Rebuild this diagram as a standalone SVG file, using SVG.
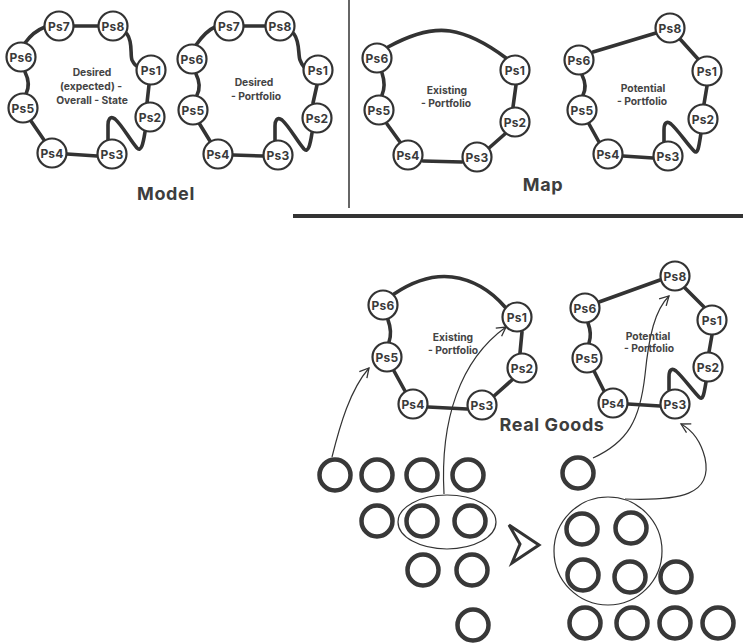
<svg xmlns="http://www.w3.org/2000/svg" width="743" height="644" viewBox="0 0 743 644">
<defs>
<style>
.n circle{fill:#fff;stroke:#333;stroke-width:2.2}
.n text{font-family:Inter,"Open Sans","Liberation Sans",sans-serif;font-weight:700;font-size:12px;letter-spacing:0.2px;fill:#3a3a3a;text-anchor:middle}
.lbl{font-family:Inter,"Open Sans","Liberation Sans",sans-serif;font-weight:700;font-size:10.3px;fill:#444;text-anchor:middle}
.title{font-family:Inter,"Open Sans","Liberation Sans",sans-serif;font-weight:700;font-size:18px;letter-spacing:0.6px;fill:#3d3d3d;text-anchor:middle}
.c{fill:none;stroke:#333;stroke-width:3.6;stroke-linecap:round;stroke-linejoin:round}
.a{fill:none;stroke:#333;stroke-width:1.2}
.g circle{fill:none;stroke:#383838;stroke-width:4.5}
.ring{fill:none;stroke:#333;stroke-width:1.2}
</style>
<marker id="arr" markerWidth="12" markerHeight="12" refX="10" refY="6" orient="auto" markerUnits="userSpaceOnUse">
<path d="M1,1 L10,6 L1,11" fill="none" stroke="#333" stroke-width="1.3"/>
</marker>
</defs>
<rect width="743" height="644" fill="#fff"/>

<!-- dividers -->
<line x1="349" y1="0" x2="349" y2="208" stroke="#333" stroke-width="1.5"/>
<line x1="293" y1="216" x2="743" y2="216" stroke="#333" stroke-width="4"/>

<g id="connectors">
<!-- model 1 -->
<path class="c" d="M74,26 L98,26"/>
<path class="c" d="M127,34 C133,42 130,55 132,60 C134,64 136,66 137,66"/>
<path class="c" d="M149,85 L147,103"/>
<path class="c" d="M145,132 C143,145 141,152 137,148 C130,140 122,125 115,119 C110,115 108,120 108,125 L108,140"/>
<path class="c" d="M97,156 L67,154"/>
<path class="c" d="M44,140 L31,121"/>
<path class="c" d="M25,72 C29,80 29,88 26,94"/>
<path class="c" d="M25,43 C30,36 37,30 45,27"/>
<!-- model 2 -->
<path class="c" d="M244,26 L265,26"/>
<path class="c" d="M294,34 C300,42 298,55 300,60 C302,65 304,67 304,67"/>
<path class="c" d="M317,85 L313,103"/>
<path class="c" d="M312,133 C310,146 308,153 304,149 C297,141 289,126 282,120 C277,116 275,121 275,126 L275,141"/>
<path class="c" d="M263,156 L233,155"/>
<path class="c" d="M210,141 L199,123"/>
<path class="c" d="M196,74 C200,82 200,89 197,95"/>
<path class="c" d="M196,45 C203,35 208,30 215,27"/>
<!-- map existing -->
<path class="c" d="M388,47 C410,35 430,28 450,31 C470,34 490,46 506,58"/>
<path class="c" d="M516,85 L513,107"/>
<path class="c" d="M506,133 L489,148"/>
<path class="c" d="M462,162 L423,161"/>
<path class="c" d="M400,142 L387,124"/>
<path class="c" d="M382,73 C385,82 385,88 382,95"/>
<!-- map potential -->
<path class="c" d="M593,52 L656,33"/>
<path class="c" d="M680,39 L698,59"/>
<path class="c" d="M707,86 L704,104"/>
<path class="c" d="M701,133 C699,146 698,155 694,151 C687,144 678,130 671,124 C666,120 664,124 664,130 L664,142"/>
<path class="c" d="M653,158 L623,156"/>
<path class="c" d="M599,142 L589,124"/>
<path class="c" d="M582,75 C586,83 586,89 583,95"/>
<!-- real existing -->
<path class="c" d="M394,294 C415,280 435,275 452,277 C475,280 492,292 505,307"/>
<path class="c" d="M522,332 L520,353"/>
<path class="c" d="M512,380 L494,396"/>
<path class="c" d="M467,409 L428,407"/>
<path class="c" d="M405,391 L394,371"/>
<path class="c" d="M388,320 C391,328 391,336 389,342"/>
<!-- real potential -->
<path class="c" d="M599,302 L660,280"/>
<path class="c" d="M685,288 L704,307"/>
<path class="c" d="M712,335 L709,352"/>
<path class="c" d="M706,382 C704,394 703,401 699,397 C692,390 683,377 676,371 C671,367 669,371 669,377 L669,390"/>
<path class="c" d="M660,406 L628,404"/>
<path class="c" d="M604,391 L594,371"/>
<path class="c" d="M588,323 C591,331 591,337 589,343"/>
<!-- thin arrows -->
<path class="a" d="M332,457 C340,425 350,390 369,368" marker-end="url(#arr)"/>
<path class="a" d="M444,494 C440,420 460,360 506,327" marker-end="url(#arr)"/>
<path class="a" d="M593,458 C628,442 640,420 645,375 C649,335 655,310 669,296" marker-end="url(#arr)"/>
<path class="a" d="M625,499 C680,501 713,495 705,458 C701,442 692,430 681,424" marker-end="url(#arr)"/>
</g>

<!-- model 1 nodes -->
<g id="m1" class="n">
<g id="m1-ps7"><circle cx="59" cy="26" r="14.5"/><text x="59" y="30.5">Ps7</text></g>
<g id="m1-ps8"><circle cx="113" cy="26" r="14.5"/><text x="113" y="30.5">Ps8</text></g>
<g id="m1-ps6"><circle cx="21" cy="57" r="14.5"/><text x="21" y="61.5">Ps6</text></g>
<g id="m1-ps1"><circle cx="151" cy="70" r="14.5"/><text x="151" y="74.5">Ps1</text></g>
<g id="m1-ps5"><circle cx="23" cy="108" r="14.5"/><text x="23" y="112.5">Ps5</text></g>
<g id="m1-ps2"><circle cx="150" cy="117" r="14.5"/><text x="150" y="121.5">Ps2</text></g>
<g id="m1-ps4"><circle cx="52" cy="153" r="14.5"/><text x="52" y="157.5">Ps4</text></g>
<g id="m1-ps3"><circle cx="112" cy="154" r="14.5"/><text x="112" y="158.5">Ps3</text></g>
</g>
<g id="m1-label"><text class="lbl" x="92" y="76">Desired</text><text class="lbl" x="91" y="90">(expected) -</text><text class="lbl" x="92" y="104">Overall - State</text></g>

<!-- model 2 nodes -->
<g id="m2" class="n">
<g id="m2-ps7"><circle cx="229" cy="26" r="14.5"/><text x="229" y="30.5">Ps7</text></g>
<g id="m2-ps8"><circle cx="280" cy="26" r="14.5"/><text x="280" y="30.5">Ps8</text></g>
<g id="m2-ps6"><circle cx="192" cy="59" r="14.5"/><text x="192" y="63.5">Ps6</text></g>
<g id="m2-ps1"><circle cx="318" cy="70" r="14.5"/><text x="318" y="74.5">Ps1</text></g>
<g id="m2-ps5"><circle cx="193" cy="110" r="14.5"/><text x="193" y="114.5">Ps5</text></g>
<g id="m2-ps2"><circle cx="317" cy="118" r="14.5"/><text x="317" y="122.5">Ps2</text></g>
<g id="m2-ps4"><circle cx="218" cy="154" r="14.5"/><text x="218" y="158.5">Ps4</text></g>
<g id="m2-ps3"><circle cx="278" cy="155" r="14.5"/><text x="278" y="159.5">Ps3</text></g>
</g>
<g id="m2-label"><text class="lbl" x="254" y="86">Desired</text><text class="lbl" x="256" y="100">- Portfolio</text></g>

<!-- map existing -->
<g id="me" class="n">
<g id="me-ps6"><circle cx="377" cy="58" r="14.5"/><text x="377" y="62.5">Ps6</text></g>
<g id="me-ps1"><circle cx="515" cy="70" r="14.5"/><text x="515" y="74.5">Ps1</text></g>
<g id="me-ps5"><circle cx="379" cy="110" r="14.5"/><text x="379" y="114.5">Ps5</text></g>
<g id="me-ps2"><circle cx="515" cy="122" r="14.5"/><text x="515" y="126.5">Ps2</text></g>
<g id="me-ps4"><circle cx="408" cy="155" r="14.5"/><text x="408" y="159.5">Ps4</text></g>
<g id="me-ps3"><circle cx="477" cy="157" r="14.5"/><text x="477" y="161.5">Ps3</text></g>
</g>
<g id="me-label"><text class="lbl" x="447" y="94">Existing</text><text class="lbl" x="446" y="107">- Portfolio</text></g>

<!-- map potential -->
<g id="mp" class="n">
<g id="mp-ps8"><circle cx="670" cy="28" r="14.5"/><text x="670" y="32.5">Ps8</text></g>
<g id="mp-ps6"><circle cx="579" cy="60" r="14.5"/><text x="579" y="64.5">Ps6</text></g>
<g id="mp-ps1"><circle cx="707" cy="71" r="14.5"/><text x="707" y="75.5">Ps1</text></g>
<g id="mp-ps5"><circle cx="582" cy="110" r="14.5"/><text x="582" y="114.5">Ps5</text></g>
<g id="mp-ps2"><circle cx="703" cy="119" r="14.5"/><text x="703" y="123.5">Ps2</text></g>
<g id="mp-ps4"><circle cx="608" cy="154" r="14.5"/><text x="608" y="158.5">Ps4</text></g>
<g id="mp-ps3"><circle cx="668" cy="156" r="14.5"/><text x="668" y="160.5">Ps3</text></g>
</g>
<g id="mp-label"><text class="lbl" x="643" y="92">Potential</text><text class="lbl" x="642" y="105">- Portfolio</text></g>

<!-- real existing -->
<g id="re" class="n">
<g id="re-ps6"><circle cx="383" cy="305" r="14.5"/><text x="383" y="309.5">Ps6</text></g>
<g id="re-ps1"><circle cx="517" cy="317" r="14.5"/><text x="517" y="321.5">Ps1</text></g>
<g id="re-ps5"><circle cx="387" cy="357" r="14.5"/><text x="387" y="361.5">Ps5</text></g>
<g id="re-ps2"><circle cx="522" cy="368" r="14.5"/><text x="522" y="372.5">Ps2</text></g>
<g id="re-ps4"><circle cx="413" cy="404" r="14.5"/><text x="413" y="408.5">Ps4</text></g>
<g id="re-ps3"><circle cx="482" cy="405" r="14.5"/><text x="482" y="409.5">Ps3</text></g>
</g>
<g id="re-label"><text class="lbl" x="453" y="341">Existing</text><text class="lbl" x="453" y="354">- Portfolio</text></g>

<!-- real potential -->
<g id="rp" class="n">
<g id="rp-ps8"><circle cx="675" cy="276" r="14.5"/><text x="675" y="280.5">Ps8</text></g>
<g id="rp-ps6"><circle cx="585" cy="308" r="14.5"/><text x="585" y="312.5">Ps6</text></g>
<g id="rp-ps1"><circle cx="712" cy="320" r="14.5"/><text x="712" y="324.5">Ps1</text></g>
<g id="rp-ps5"><circle cx="587" cy="358" r="14.5"/><text x="587" y="362.5">Ps5</text></g>
<g id="rp-ps2"><circle cx="708" cy="367" r="14.5"/><text x="708" y="371.5">Ps2</text></g>
<g id="rp-ps4"><circle cx="613" cy="403" r="14.5"/><text x="613" y="407.5">Ps4</text></g>
<g id="rp-ps3"><circle cx="675" cy="404" r="14.5"/><text x="675" y="408.5">Ps3</text></g>
</g>
<g id="rp-label"><text class="lbl" x="648" y="340">Potential</text><text class="lbl" x="649" y="352">- Portfolio</text></g>

<!-- titles -->
<text class="title" x="166" y="200">Model</text>
<text class="title" x="543" y="191">Map</text>
<text class="title" x="552" y="431">Real Goods</text>

<!-- goods left -->
<g id="goods-left" class="g">
<circle cx="335" cy="475" r="15.5"/><circle cx="377" cy="475" r="15.5"/><circle cx="422" cy="475" r="15.5"/><circle cx="468" cy="475" r="15.5"/>
<circle cx="377" cy="521" r="15.5"/><circle cx="422" cy="521" r="15.5"/><circle cx="470" cy="521" r="15.5"/>
<circle cx="423" cy="570" r="15.5"/><circle cx="472" cy="570" r="15.5"/>
<circle cx="473" cy="625" r="15.5"/>
</g>
<ellipse id="group-left" class="ring" cx="447" cy="522" rx="49" ry="27"/>

<!-- transition chevron -->
<polygon id="chevron" points="509,525 539,545 512,563 520,544" fill="#fff" stroke="#333" stroke-width="3" stroke-linejoin="miter"/>

<!-- goods right -->
<g id="goods-right" class="g">
<circle cx="578" cy="473" r="15.5"/>
<circle cx="582" cy="529" r="15.5"/><circle cx="631" cy="528" r="15.5"/>
<circle cx="583" cy="575" r="15.5"/><circle cx="630" cy="577" r="15.5"/><circle cx="676" cy="577" r="15.5"/>
<circle cx="585" cy="623" r="15.5"/><circle cx="632" cy="623" r="15.5"/><circle cx="675" cy="623" r="15.5"/><circle cx="718" cy="623" r="15.5"/>
</g>
<circle id="group-right" class="ring" cx="608" cy="551" r="54"/>
</svg>
